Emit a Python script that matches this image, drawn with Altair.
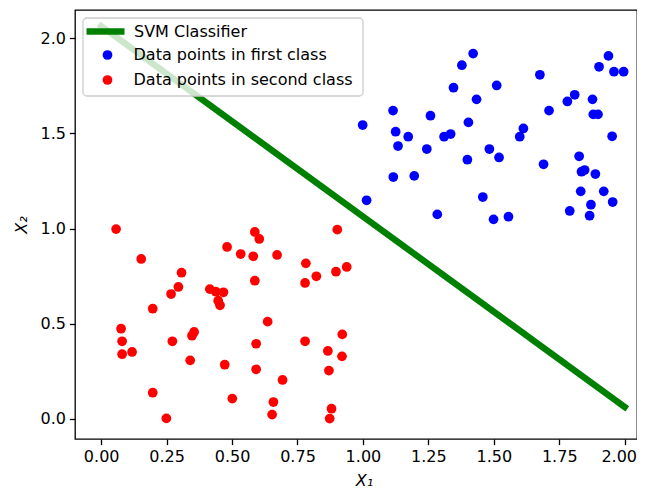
import altair as alt
import pandas as pd

# ---- data ----
red_x = [0.057, 0.153, 0.307, 0.295, 0.267, 0.197, 0.076, 0.080, 0.080, 0.118,
         0.272, 0.355, 0.347, 0.340, 0.197, 0.249, 0.415, 0.438, 0.467, 0.447,
         0.454, 0.481, 0.472, 0.501, 0.587, 0.604, 0.533, 0.581, 0.672, 0.902,
         0.782, 0.822, 0.779, 0.897, 0.938, 0.587, 0.636, 0.592, 0.779, 0.921,
         0.866, 0.920, 0.592, 0.870, 0.693, 0.658, 0.653, 0.880, 0.873]
red_y = [0.997, 0.840, 0.768, 0.693, 0.656, 0.579, 0.474, 0.408, 0.340, 0.352,
         0.408, 0.457, 0.437, 0.308, 0.138, 0.003, 0.682, 0.668, 0.665, 0.621,
         0.597, 0.903, 0.285, 0.107, 0.982, 0.945, 0.866, 0.854, 0.861, 0.994,
         0.817, 0.749, 0.714, 0.773, 0.798, 0.726, 0.511, 0.395, 0.408, 0.444,
         0.357, 0.329, 0.261, 0.254, 0.205, 0.089, 0.023, 0.054, 0.002]

blue_x = [1.421, 1.378, 1.346, 1.434, 1.115, 1.258, 1.403, 0.999, 1.125, 1.173,
          1.134, 1.310, 1.335, 1.244, 1.483, 1.399, 1.116, 1.196, 1.458, 1.014,
          1.284, 1.938, 1.902, 1.959, 1.996, 1.676, 1.511, 1.809, 1.781, 1.877,
          1.711, 1.880, 1.898, 1.613, 1.599, 1.952, 1.520, 1.826, 1.690, 1.835,
          1.847, 1.888, 1.832, 1.920, 1.954, 1.871, 1.790, 1.866, 1.556, 1.499]
blue_y = [1.918, 1.857, 1.739, 1.678, 1.619, 1.592, 1.557, 1.543, 1.508, 1.482,
          1.433, 1.482, 1.496, 1.417, 1.417, 1.361, 1.270, 1.276, 1.165, 1.148,
          1.074, 1.906, 1.849, 1.823, 1.823, 1.807, 1.751, 1.702, 1.667, 1.678,
          1.619, 1.599, 1.599, 1.525, 1.482, 1.484, 1.373, 1.379, 1.337, 1.298,
          1.307, 1.286, 1.195, 1.195, 1.139, 1.125, 1.092, 1.067, 1.062, 1.048]

line_x = [0.0, 2.0]
line_y = [2.063, 0.063]

class_names = ["Data points in first class", "Data points in second class"]
line_name = "SVM Classifier"
x_ticks = [0.0, 0.25, 0.5, 0.75, 1.0, 1.25, 1.5, 1.75, 2.0]
y_ticks = [0.0, 0.5, 1.0, 1.5, 2.0]

pts = pd.DataFrame({
    "x": blue_x + red_x,
    "y": blue_y + red_y,
    "cls": [class_names[0]] * len(blue_x) + [class_names[1]] * len(red_x),
})
ln = pd.DataFrame({"x": line_x, "y": line_y, "name": [line_name] * len(line_x)})
frame_df = pd.DataFrame({"k": [0]})

FONT = "DejaVu Sans"

xs = alt.Scale(domain=[-0.1, 2.047], nice=False, zero=False)
ys = alt.Scale(domain=[-0.105, 2.147], nice=False, zero=False)

x_axis = alt.Axis(
    values=x_ticks, format=".2f", title="X₁", titlePadding=8, titleX=289,
    labelOffset={"condition": {"test": "datum.value >= 1.99", "value": -6}, "value": 0},
)
y_axis = alt.Axis(values=y_ticks, format=".1f", title="X₂", titlePadding=10)

line = alt.Chart(ln).mark_line(strokeWidth=6.4, strokeCap="square").encode(
    x=alt.X("x:Q", scale=xs, axis=x_axis),
    y=alt.Y("y:Q", scale=ys, axis=y_axis),
    stroke=alt.Stroke(
        "name:N",
        scale=alt.Scale(domain=[line_name], range=["#008000"]),
        legend=alt.Legend(
            title=None, orient="none", legendX=8, legendY=-1,
            symbolType="stroke", symbolSize=1444, symbolStrokeWidth=6.4,
            labelOffset=6, padding=0, labelFont=FONT, labelFontSize=16,
            labelColor="black",
        ),
    ),
)

frame = alt.Chart(frame_df).mark_rect(
    fill="white", fillOpacity=0.8, stroke="#cccccc", strokeWidth=1.3, cornerRadius=4
).encode(
    x=alt.value(8), x2=alt.value(288), y=alt.value(8), y2=alt.value(86)
)

points = alt.Chart(pts).mark_circle(size=95, opacity=1).encode(
    x=alt.X("x:Q", scale=xs),
    y=alt.Y("y:Q", scale=ys),
    color=alt.Color(
        "cls:N",
        scale=alt.Scale(domain=class_names, range=["#0000ff", "#ff0000"]),
        legend=alt.Legend(
            title=None, orient="none", legendX=24.5, legendY=37,
            symbolType="circle", symbolSize=95, symbolStrokeWidth=0,
            labelOffset=18, rowPadding=9, padding=0,
            labelFont=FONT, labelFontSize=16, labelColor="black",
        ),
    ),
)

chart = alt.layer(line, frame, points).properties(
    width=562, height=429,
    autosize=alt.AutoSizeParams(type="none"),
    padding={"left": 67, "top": 2, "right": 0, "bottom": 60},
).configure_view(
    stroke="black", strokeWidth=1.3
).configure_axis(
    labelFont=FONT, labelFontSize=16, labelColor="black",
    tickColor="black", tickSize=5.6, tickWidth=1.3, labelPadding=4,
    domain=False, grid=False,
    titleFont=FONT, titleFontSize=16, titleFontWeight="normal",
    titleFontStyle="italic", titleColor="black",
).configure_legend(
    labelLimit=400
)

chart.save("out.html", embed_options={"renderer": "svg", "actions": False})
